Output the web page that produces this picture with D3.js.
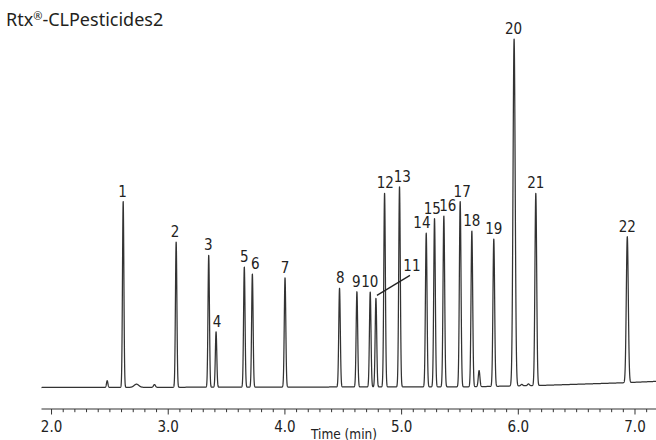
<!DOCTYPE html>
<html>
<head>
<meta charset="utf-8">
<script src="https://cdn.jsdelivr.net/npm/d3@7/dist/d3.min.js"></script>
<style>
  html, body { margin: 0; padding: 0; background: #fff; }
  svg { display: block; }
  .lbl { font-family: "Liberation Sans Narrow", "DejaVu Sans Condensed", "Arial Narrow", sans-serif; fill: #222; }
</style>
</head>
<body>
<svg id="chart" width="656" height="440"></svg>
<script>
// ---- data ----
const title = "Rtx";
const titleRest = "-CLPesticides2";
const peakIds   = ["1","2","3","4","5","6","7","8","9","10","11","12","13","14","15","16","17","18","19","20","21","22"];
const peakTimes = [2.614,3.068,3.347,3.410,3.652,3.721,4.001,4.468,4.617,4.731,4.780,4.854,4.982,5.211,5.282,5.362,5.502,5.602,5.790,5.964,6.150,6.934];
const peakHeights = [53.1,41.5,37.7,15.8,34.3,32.3,31.2,28.2,27.2,27.1,25.3,55.3,57.2,43.9,48.1,48.8,52.9,44.5,42.1,99.1,54.9,41.7];
const peakSigmas  = [0.0060,0.0062,0.0062,0.0062,0.0063,0.0063,0.0065,0.0066,0.0066,0.0066,0.0066,0.0068,0.0068,0.0068,0.0068,0.0070,0.0070,0.0070,0.0072,0.0092,0.0075,0.0085];
// minor unlabeled peaks / bumps
const minorTimes   = [2.477,2.728,2.882,5.664,6.030,6.087];
const minorHeights = [1.9,0.9,0.8,4.6,0.4,0.5];
const minorSigmas  = [0.006,0.02,0.008,0.007,0.008,0.008];
// baseline drift anchors
const driftTimes  = [1.914,4.5,5.6,6.2,6.9,7.18];
const driftLevels = [0,0.15,0.2,0.6,1.35,1.75];
const tickMajor = [2.0,3.0,4.0,5.0,6.0,7.0];
const axisTitle = "Time (min)";

// ---- layout ----
const svg = d3.select("#chart");
const x = d3.scaleLinear().domain([1.914, 7.18]).range([41.5, 656]);
const y = d3.scaleLinear().domain([0, 100]).range([387.5, 37.5]);
const drift = d3.scaleLinear().domain(driftTimes).range(driftLevels);

function signal(t) {
  let v = drift(t);
  for (let i = 0; i < peakTimes.length; i++) {
    const d = (t - peakTimes[i]) / peakSigmas[i];
    if (Math.abs(d) < 8) v += peakHeights[i] * Math.exp(-0.5 * d * d);
  }
  for (let i = 0; i < minorTimes.length; i++) {
    const d = (t - minorTimes[i]) / minorSigmas[i];
    if (Math.abs(d) < 8) v += minorHeights[i] * Math.exp(-0.5 * d * d);
  }
  return v;
}

const [t0, t1] = x.domain();
const pts = d3.range(t0, t1, 0.0006).concat([t1]).map(t => [t, signal(t)]);

svg.append("path")
  .datum(pts)
  .attr("fill", "none")
  .attr("stroke", "#333")
  .attr("stroke-width", 1.25)
  .attr("stroke-linejoin", "round")
  .attr("d", d3.line().x(d => x(d[0])).y(d => y(d[1])));

// ---- axis ----
const axisY = 409;
const minorTicks = d3.range(19, 72).map(k => k / 10).filter(t => t >= t0 && t <= t1);
const axisG = svg.append("g").attr("transform", `translate(0,${axisY})`);
axisG.append("line")
  .attr("x1", x(t0)).attr("x2", x(t1))
  .attr("stroke", "#333").attr("stroke-width", 1);
axisG.selectAll("line.minor").data(minorTicks).enter().append("line")
  .attr("class", "minor")
  .attr("x1", d => x(d)).attr("x2", d => x(d))
  .attr("y1", 0).attr("y2", d => tickMajor.some(m => Math.abs(m - d) < 1e-6) ? 5.5 : 3.2)
  .attr("stroke", "#333").attr("stroke-width", 1);
axisG.selectAll("text.tl").data(tickMajor).enter().append("text")
  .attr("class", "lbl tl")
  .attr("x", d => x(d)).attr("y", 22.5)
  .attr("text-anchor", "middle")
  .style("font-size", "15px")
  .text(d => d.toFixed(1));
svg.append("text")
  .attr("class", "lbl")
  .attr("x", 344).attr("y", 438.5)
  .attr("text-anchor", "middle")
  .style("font-size", "13.5px")
  .text(axisTitle);

// ---- peak labels ----
const labelNudge = {"1":-0.7,"2":-1.2,"3":-0.3,"4":1,"5":0,"6":3,"7":0,"8":0.7,"9":-0.7,"10":-0.5,
  "12":0.7,"13":2.7,"14":-4.3,"15":-2.3,"16":4,"17":2,"18":0,"19":0,"20":-0.5,"21":0,"22":0};
peakIds.forEach((id, i) => {
  const px = x(peakTimes[i]);
  const py = y(signal(peakTimes[i]));
  if (id === "11") {
    svg.append("line")
      .attr("x1", px + 1).attr("y1", py - 3)
      .attr("x2", px + 34).attr("y2", py - 23)
      .attr("stroke", "#222").attr("stroke-width", 1.3);
    svg.append("text").attr("class", "lbl")
      .attr("x", px + 36).attr("y", py - 27)
      .attr("text-anchor", "middle").style("font-size", "15px").text(id);
  } else {
    svg.append("text").attr("class", "lbl")
      .attr("x", px + labelNudge[id]).attr("y", py - 5)
      .attr("text-anchor", "middle").style("font-size", "15px").text(id);
  }
});

// ---- title ----
const tt = svg.append("text")
  .attr("x", 6).attr("y", 26)
  .style("font-family", "'Noto Sans', 'Open Sans', sans-serif")
  .style("font-size", "18px")
  .style("fill", "#231f20");
tt.append("tspan").text(title);
tt.append("tspan").attr("dy", -6).style("font-size", "11px").text("®");
tt.append("tspan").attr("dy", 6).text(titleRest);
</script>
</body>
</html>
